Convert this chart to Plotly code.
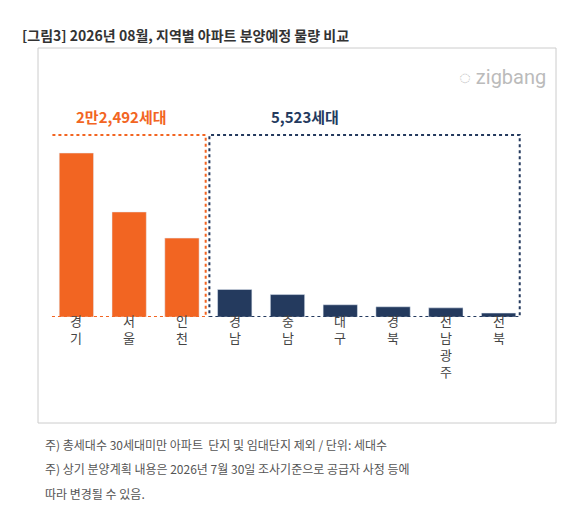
import plotly.graph_objects as go

regions = ["경기", "서울", "인천", "경남", "충남", "대구", "경북", "전남광주", "전북"]
values = [10600, 6790, 5100, 1780, 1450, 790, 660, 590, 253]
colors = ["#F26522"] * 3 + ["#243A5E"] * 6
metro_label = "2만2,492세대"
other_label = "5,523세대"

L, R, T, B = 42, 54, 100, 220
W, H = 571, 529
pw, ph = W - L - R, H - T - B
def px(x): return (x - L) / pw
def py(y): return (H - B - y) / ph

fig = go.Figure(go.Bar(x=list(range(9)), y=values, marker_color=colors, width=0.65))
fig.update_layout(
    width=W, height=H, margin=dict(l=L, r=R, t=T, b=B, autoexpand=False),
    plot_bgcolor="white", paper_bgcolor="white", showlegend=False,
    font=dict(family="Noto Sans CJK KR"),
    xaxis=dict(range=[-0.5, 8.5], showticklabels=False, automargin=False,
               showgrid=False, zeroline=False, showline=False, ticks=""),
    yaxis=dict(range=[0, 13510], visible=False, automargin=False),
)
ytop = (309 - 127) / 209 * 13510
fig.add_shape(type="rect", x0=-0.69, x1=2.45, y0=0, y1=ytop, line=dict(color="#F26522", dash="dot", width=2))
fig.add_shape(type="rect", x0=2.52, x1=8.4, y0=0, y1=ytop, line=dict(color="#243A5E", dash="dot", width=2))
fig.add_shape(type="rect", xref="paper", yref="paper", x0=px(30), x1=px(548), y0=py(415), y1=py(40),
              line=dict(color="#cccccc", width=1), layer="below")
ann = [
    dict(x=0.86, y=(309 - 108) / 209 * 13510, xref="x", yref="y", text=f"<b>{metro_label}</b>",
         font=dict(size=15, color="#F26522")),
    dict(x=4.33, y=(309 - 108) / 209 * 13510, xref="x", yref="y", text=f"<b>{other_label}</b>",
         font=dict(size=15, color="#243A5E")),
    dict(x=px(12), y=py(15), xref="paper", yref="paper", xanchor="left",
         text="<b>[그림3] 2026년 08월, 지역별 아파트 분양예정 물량 비교</b>", font=dict(size=14, color="#333")),
    dict(x=px(540), y=py(55), xref="paper", yref="paper", xanchor="right",
         text="◌ zigbang", font=dict(size=20, color="#bbbbbb", family="Roboto")),
    dict(x=px(35), y=py(447), xref="paper", yref="paper", xanchor="left",
         text="주) 총세대수 30세대미만 아파트  단지 및 임대단지 제외 / 단위: 세대수", font=dict(size=12, color="#555")),
    dict(x=px(35), y=py(471), xref="paper", yref="paper", xanchor="left",
         text="주) 상기 분양계획 내용은 2026년 7월 30일 조사기준으로 공급자 사정 등에", font=dict(size=12, color="#555")),
    dict(x=px(35), y=py(496), xref="paper", yref="paper", xanchor="left",
         text="따라 변경될 수 있음.", font=dict(size=12, color="#555")),
]
for i, r in enumerate(regions):
    for j, ch in enumerate(r):
        ann.append(dict(x=i, y=py(324 + 17 * j), xref="x", yref="paper", text=ch,
                        font=dict(size=13, color="#444")))
for a in ann:
    a["showarrow"] = False
    fig.add_annotation(**a)
fig.write_html("out.html")
